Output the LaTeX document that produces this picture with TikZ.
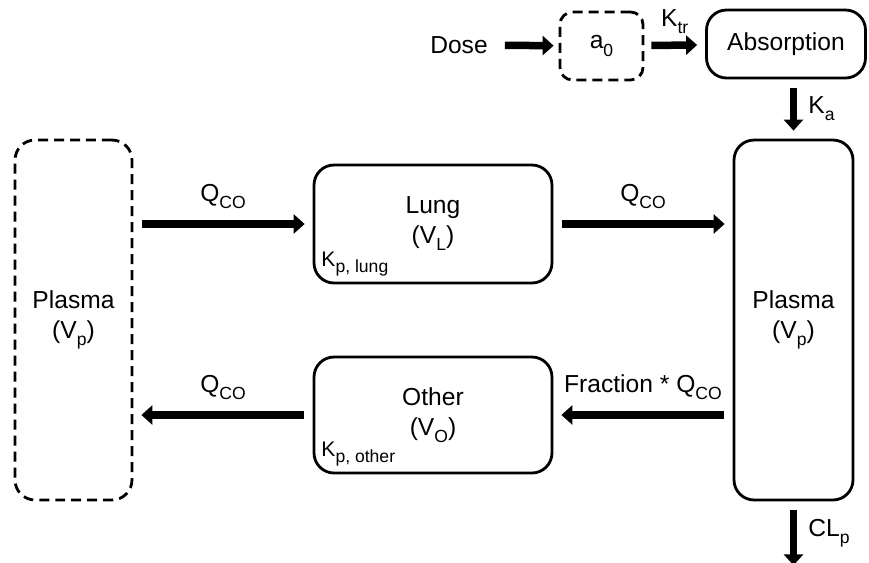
\documentclass[tikz,border=0pt]{standalone}
\usepackage{fontspec}
\setmainfont{Liberation Sans}
\usetikzlibrary{arrows.meta, calc, positioning}
\newcommand{\low}[1]{\raisebox{-0.55ex}{\fontsize{10}{10}\selectfont #1}}

\begin{document}
\begin{tikzpicture}[x=0.02cm, y=-0.02cm,
    box/.style={draw, line width=1.6pt, rounded corners=0.4cm, align=center,
        font=\fontsize{14}{17}\selectfont},
    ghost/.style={box, dash pattern=on 0.2cm off 0.12cm},
    flow/.style={-{Triangle[length=0.22cm, width=0.38cm]}, line width=0.15cm,
        shorten <=0.18cm, shorten >=0.16cm},
    lbl/.style={font=\fontsize{14}{17}\selectfont},
    kp/.style={anchor=south west, inner sep=2pt, font=\fontsize{12}{14}\selectfont}]
    \useasboundingbox (0,0) rectangle (869,562);

    % compartments
    \node[ghost, minimum width=2.34cm, minimum height=7.2cm] (plasmaL) at (73.5,320) {Plasma\\(V\low{p})};
    \node[box, minimum width=2.38cm, minimum height=7.2cm] (plasmaR) at (793.5,320) {Plasma\\(V\low{p})};
    \node[box, minimum width=4.76cm, minimum height=2.36cm] (lung) at (433,224) {Lung\\(V\low{L})};
    \node[box, minimum width=4.76cm, minimum height=2.32cm] (other) at (433,415) {Other\\(V\low{O})};
    \node[box, minimum width=3.18cm, minimum height=1.36cm] (absorp) at (786,44) {Absorption};
    \node[ghost, rounded corners=0.25cm, minimum width=1.66cm, minimum height=1.36cm] (a0) at (601.5,46) {a\low{0}};
    \node[lbl] (dose) at (459,45) {Dose};

    % partition coefficients
    \node[kp] (kplung) at ([shift={(0.1cm,0.08cm)}]lung.south west) {K\low{p, lung}};
    \node[kp] (kpother) at ([shift={(0.1cm,0.08cm)}]other.south west) {K\low{p, other}};

    % dosing and absorption
    \draw[flow, shorten <=0.22cm, shorten >=0.1cm] (dose) -- (a0);
    \draw[flow, shorten <=0.14cm] (a0) -- node[lbl, above=1pt] {K\low{tr}} (absorp);
    \draw[flow] (plasmaR.north |- absorp.south) -- node[lbl, right=3pt] {K\low{a}} (plasmaR.north);

    % blood flows
    \draw[flow] (plasmaL.east |- lung.west) -- node[lbl, above=3pt] {Q\low{CO}} (lung.west);
    \draw[flow] (lung.east) -- node[lbl, above=3pt] {Q\low{CO}} (lung.east -| plasmaR.west);
    \draw[flow] (plasmaR.west |- other.east) -- node[lbl, above=3pt] {Fraction * Q\low{CO}} (other.east);
    \draw[flow] (other.west) -- node[lbl, above=3pt] {Q\low{CO}} (other.west -| plasmaL.east);

    % clearance
    \coordinate (clout) at ($(plasmaR.south)+(0,64)$);
    \draw[flow, shorten >=0pt] (plasmaR.south) -- node[lbl, right=3pt] {CL\low{p}} (clout);
\end{tikzpicture}
\end{document}
